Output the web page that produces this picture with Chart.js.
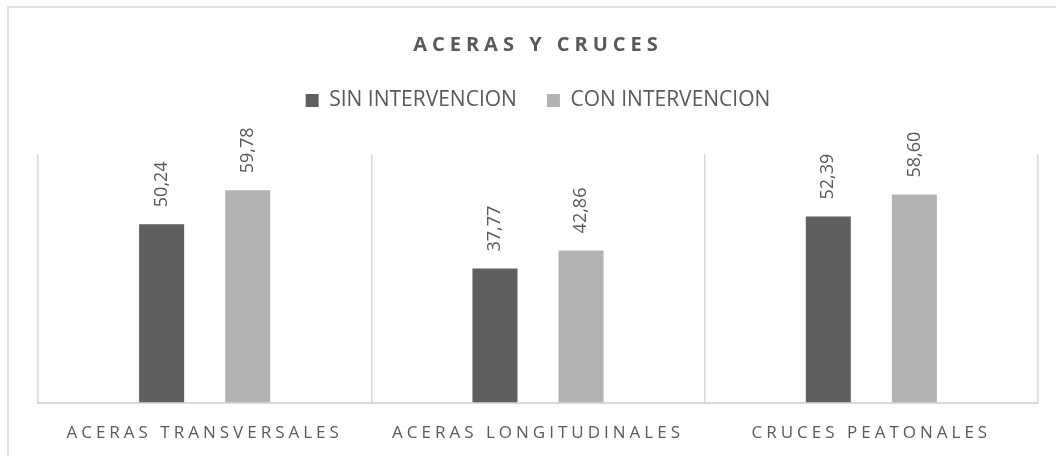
<!DOCTYPE html>
<html>
<head>
<meta charset="utf-8">
<script src="https://cdn.jsdelivr.net/npm/chart.js@4"></script>
<style>
  body { margin: 0; background: #fff; }
  canvas { display: block; }
</style>
</head>
<body>
<canvas id="chart" width="1056" height="456"></canvas>
<script>
const chartTitle = "ACERAS Y CRUCES";
const categories = ["ACERAS TRANSVERSALES", "ACERAS LONGITUDINALES", "CRUCES PEATONALES"];
const sinIntervencion = [50.24, 37.77, 52.39];
const conIntervencion = [59.78, 42.86, 58.60];

const textColor = "#595959";
const gridColor = "#d9d9d9";
const fontFamily = "'Open Sans', 'Noto Sans', sans-serif";

// frame, value labels, letter-spaced title and ticks
const decorPlugin = {
  id: "decor",
  beforeDraw(chart) {
    const ctx = chart.ctx;
    ctx.save();
    ctx.fillStyle = "#fff";
    ctx.fillRect(0, 0, chart.width, chart.height);
    ctx.strokeStyle = gridColor;
    ctx.lineWidth = 1.5;
    ctx.beginPath();
    ctx.moveTo(8, chart.height);
    ctx.lineTo(8, 7);
    ctx.lineTo(chart.width, 7);
    ctx.stroke();
    ctx.restore();
    ctx.letterSpacing = "0px";
  },
  afterDatasetsDraw(chart) {
    const ctx = chart.ctx;
    ctx.save();
    ctx.font = "18px " + fontFamily;
    ctx.fillStyle = textColor;
    ctx.textAlign = "left";
    ctx.textBaseline = "middle";
    chart.data.datasets.forEach((ds, i) => {
      chart.getDatasetMeta(i).data.forEach((bar, j) => {
        const txt = ds.data[j].toFixed(2).replace(".", ",");
        ctx.save();
        ctx.translate(bar.x, bar.y - 17);
        ctx.rotate(-Math.PI / 2);
        ctx.fillText(txt, 0, 0);
        ctx.restore();
      });
    });
    ctx.restore();
    // x tick labels are drawn after this (ticks.z = 1)
    ctx.letterSpacing = "4px";
  },
  afterDraw(chart) {
    const ctx = chart.ctx;
    const area = chart.chartArea;
    ctx.save();
    ctx.letterSpacing = "5px";
    ctx.font = "bold 20px " + fontFamily;
    ctx.fillStyle = textColor;
    ctx.textAlign = "center";
    ctx.textBaseline = "middle";
    ctx.fillText(chartTitle, (area.left + area.right) / 2, 45);
    ctx.restore();
    ctx.letterSpacing = "0px";
  }
};

new Chart(document.getElementById("chart"), {
  type: "bar",
  data: {
    labels: categories,
    datasets: [
      {
        label: "SIN INTERVENCION",
        data: sinIntervencion,
        backgroundColor: "#5f5f5f",
        categoryPercentage: 0.5165,
        barPercentage: 0.523
      },
      {
        label: "CON INTERVENCION",
        data: conIntervencion,
        backgroundColor: "#b2b2b2",
        categoryPercentage: 0.5165,
        barPercentage: 0.523
      }
    ]
  },
  options: {
    responsive: false,
    animation: false,
    layout: { padding: { top: 60, left: 38, right: 18, bottom: -7 } },
    plugins: {
      tooltip: { enabled: false },
      legend: {
        position: "top",
        labels: {
          boxWidth: 13,
          boxHeight: 13,
          padding: 30,
          color: textColor,
          font: { family: fontFamily, size: 21 }
        }
      }
    },
    scales: {
      x: {
        offset: true,
        grid: { color: gridColor, lineWidth: 1.5, offset: true, drawTicks: false },
        border: { color: gridColor, width: 2 },
        ticks: {
          z: 1,
          padding: 20,
          color: textColor,
          font: { family: fontFamily, size: 17 }
        }
      },
      xTop: {
        type: "category",
        position: "top",
        grid: { display: false },
        border: { display: false },
        ticks: { display: false },
        afterFit(scale) { scale.height = 33; }
      },
      y: {
        display: false,
        min: 0,
        max: 70
      }
    }
  },
  plugins: [decorPlugin]
});
</script>
</body>
</html>
